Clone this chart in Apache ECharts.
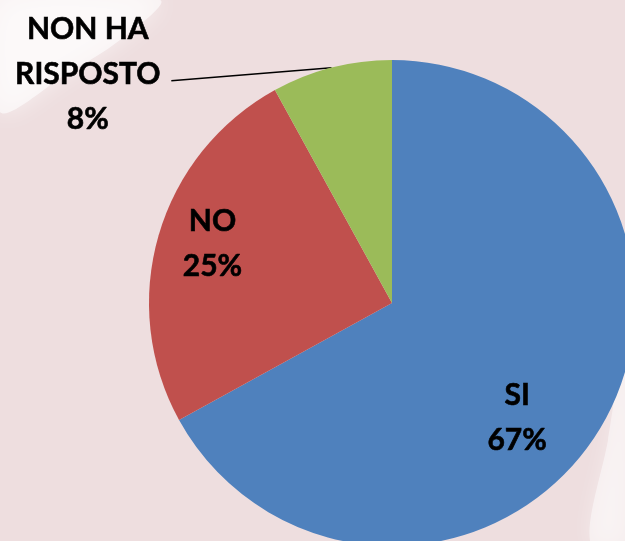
<!DOCTYPE html>
<html lang="it">
<head>
    <meta charset="UTF-8"/>
    <script src="https://cdn.jsdelivr.net/npm/echarts@6/dist/echarts.min.js"></script>
    <title>Pie</title>
    <style>
        html, body { margin: 0; padding: 0; background: #EEDEDF; }
        #pie { width: 625px; height: 541px; }
    </style>
</head>
<body>
<div id="pie"></div>
<script type="text/javascript">
    // dati
    var categories = ['SI', 'NO', 'NON HA RISPOSTO'];
    var values = [67, 25, 8];
    var colors = ['#4F81BD', '#C0504D', '#9BBB59'];

    // spostamento etichette interne rispetto alla posizione 'inside'
    var labelShift = [[18, 51], [-60, -24], [0, 0]];

    var pieData = [];
    for (var i = 0; i < categories.length; i++) {
        var item = { name: categories[i], value: values[i], itemStyle: { color: colors[i] } };
        if (i < 2) {
            item.label = { position: 'inside', offset: labelShift[i] };
            item.labelLine = { show: false };
        } else {
            item.label = { position: 'outside' };
        }
        pieData.push(item);
    }

    var myChart = echarts.init(document.getElementById('pie'));
    var option = {
        backgroundColor: '#EEDEDF',
        animation: false,
        graphic: [
            {
                type: 'polygon', z: -10, silent: true,
                shape: { points: [[0, 0], [160, 0], [120, 40], [65, 75], [0, 112]], smooth: 0.3 },
                style: { fill: 'rgba(255,255,255,0.6)', shadowBlur: 25, shadowColor: 'rgba(255,255,255,0.9)' }
            },
            {
                type: 'polygon', z: -10, silent: true,
                shape: { points: [[625, 340], [625, 541], [590, 541], [608, 440]], smooth: 0.3 },
                style: { fill: 'rgba(255,255,255,0.45)', shadowBlur: 20, shadowColor: 'rgba(255,255,255,0.8)' }
            }
        ],
        series: [
            {
                type: 'pie',
                center: [392, 303],
                radius: 243,
                startAngle: 90,
                clockwise: true,
                avoidLabelOverlap: false,
                data: pieData,
                label: {
                    formatter: function (p) {
                        var lines = p.name.replace('HA ', 'HA\n').split('\n');
                        lines.push(Math.round(p.percent) + '%');
                        return lines.map(function (s) { return '{a|' + s + '}'; }).join('\n');
                    },
                    color: '#000',
                    distanceToLabelLine: 6,
                    rich: {
                        a: {
                            fontFamily: 'Lato',
                            fontWeight: 'bold',
                            fontSize: 30,
                            lineHeight: 45,
                            color: '#000',
                            textBorderColor: '#000',
                            textBorderWidth: 0.6,
                            width: 155,
                            align: 'center'
                        }
                    }
                },
                labelLine: {
                    show: true,
                    length: 1,
                    length2: 160,
                    lineStyle: { color: '#000', width: 1.5 }
                },
                labelLayout: function (p) {
                    if (p.dataIndex !== 2) return;
                    var pts = p.labelLinePoints;
                    var end = [pts[2][0], pts[2][1] + 14];
                    return {
                        y: pts[2][1] + 8,
                        labelLinePoints: [pts[0], end, end]
                    };
                }
            }
        ]
    };
    myChart.setOption(option);
</script>
</body>
</html>
